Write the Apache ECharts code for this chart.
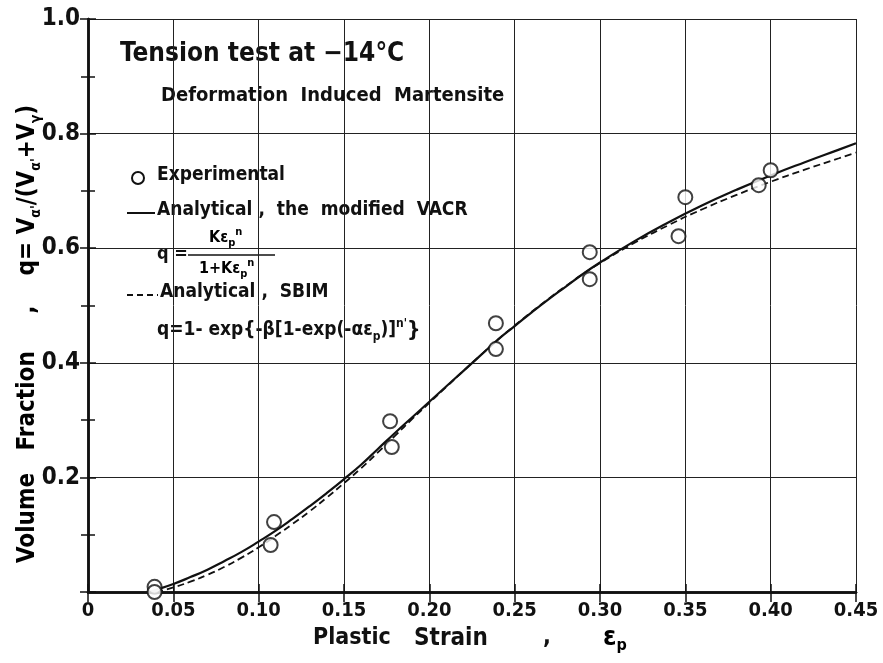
<!DOCTYPE html>
<html>
<head>
<meta charset="utf-8">
<title>Tension test at -14°C</title>
<script src="https://cdn.jsdelivr.net/npm/echarts@6/dist/echarts.min.js"></script>
<style>
  html, body { margin: 0; padding: 0; background: #fff; }
  #chart { width: 883px; height: 663px; }
</style>
</head>
<body>
<div id="chart"></div>
<script>
// experimental points (plastic strain, volume fraction)
var expX = [0.039, 0.039, 0.109, 0.107, 0.177, 0.178, 0.239, 0.239, 0.294, 0.294, 0.350, 0.346, 0.400, 0.393];
var expY = [0.009, 0.000, 0.122, 0.082, 0.298, 0.253, 0.469, 0.424, 0.593, 0.546, 0.689, 0.621, 0.736, 0.710];

// analytical, the modified VACR (solid)
var vacrX = [0.035, 0.04, 0.05, 0.06, 0.07, 0.08, 0.09, 0.10, 0.11, 0.12, 0.13, 0.14, 0.15, 0.16, 0.17, 0.18, 0.19, 0.20,
             0.21, 0.22, 0.23, 0.24, 0.25, 0.26, 0.27, 0.28, 0.29, 0.30, 0.32, 0.34, 0.36, 0.38, 0.40, 0.42, 0.44, 0.45];
var vacrY = [0.000, 0.004, 0.014, 0.026, 0.039, 0.054, 0.070, 0.088, 0.107, 0.128, 0.150, 0.173, 0.197, 0.222, 0.250, 0.278, 0.305, 0.332,
             0.359, 0.386, 0.413, 0.440, 0.464, 0.488, 0.511, 0.533, 0.555, 0.575, 0.612, 0.645, 0.675, 0.702, 0.727, 0.750, 0.772, 0.783];

// analytical, SBIM (dashed)
var sbimX = [0.04, 0.05, 0.06, 0.07, 0.08, 0.09, 0.10, 0.11, 0.12, 0.13, 0.14, 0.15, 0.16, 0.17, 0.18, 0.19, 0.20,
             0.21, 0.22, 0.23, 0.24, 0.25, 0.26, 0.27, 0.28, 0.29, 0.30, 0.32, 0.34, 0.36, 0.38, 0.40, 0.42, 0.44, 0.45];
var sbimY = [0.000, 0.008, 0.018, 0.030, 0.044, 0.060, 0.078, 0.098, 0.119, 0.141, 0.165, 0.190, 0.216, 0.244, 0.273, 0.302, 0.330,
             0.358, 0.386, 0.413, 0.440, 0.465, 0.489, 0.512, 0.534, 0.555, 0.574, 0.609, 0.640, 0.668, 0.693, 0.716, 0.737, 0.757, 0.767];

function pairs(xs, ys) {
  return xs.map(function (x, i) { return [x, ys[i]]; });
}

var font = '"DejaVu Sans Condensed", "DejaVu Sans"';
var ink = '#111';
function txt(size) {
  return { fontSize: size, fontFamily: font, fontWeight: 'bold', color: ink, lineHeight: size + 6 };
}
function low(size) {
  return { fontSize: size, fontFamily: font, fontWeight: 'bold', color: ink, verticalAlign: 'bottom', lineHeight: size };
}
function high(size) {
  return { fontSize: size, fontFamily: font, fontWeight: 'bold', color: ink, verticalAlign: 'top', lineHeight: size };
}
function label(left, top, text, size) {
  return { type: 'text', left: left, top: top,
    style: { text: text, fontSize: size, fontFamily: font, fontWeight: 'bold', fill: ink } };
}

var chart = echarts.init(document.getElementById('chart'), null, { renderer: 'canvas' });

chart.setOption({
  backgroundColor: '#fff',
  animation: false,
  grid: { left: 88, right: 27, top: 19, bottom: 71 },
  xAxis: [{
    type: 'value',
    min: 0,
    max: 0.45,
    interval: 0.05,
    position: 'bottom',
    axisLine: { lineStyle: { color: ink, width: 2.5 } },
    axisTick: { inside: true, length: 8, lineStyle: { color: ink, width: 1.5 } },
    axisLabel: {
      fontSize: 20, fontFamily: font, fontWeight: 'bold', color: ink, margin: 9,
      formatter: function (v) { return v === 0 ? '0' : v.toFixed(2); }
    },
    splitLine: { show: true, lineStyle: { color: '#222', width: 1 } }
  }, {
    type: 'value',
    min: 0,
    max: 0.45,
    interval: 0.05,
    position: 'top',
    axisLine: { lineStyle: { color: ink, width: 2.5 } },
    axisTick: { inside: true, length: 10, lineStyle: { color: ink, width: 1.5 } },
    axisLabel: { show: false },
    splitLine: { show: false }
  }],
  yAxis: [{
    type: 'value',
    min: 0,
    max: 1,
    interval: 0.2,
    position: 'left',
    axisLine: { lineStyle: { color: ink, width: 2.5 } },
    axisTick: { inside: true, length: 8, lineStyle: { color: ink, width: 1.5 } },
    minorTick: { show: true, splitNumber: 2, length: 7, lineStyle: { color: ink, width: 1.5 } },
    axisLabel: {
      fontSize: 24, fontFamily: font, fontWeight: 'bold', color: ink, margin: 8,
      formatter: function (v) { return v === 0 ? '' : v.toFixed(1); }
    },
    splitLine: { show: true, lineStyle: { color: '#222', width: 1 } }
  }, {
    type: 'value',
    min: 0,
    max: 1,
    interval: 0.2,
    position: 'right',
    axisLine: { show: true, lineStyle: { color: ink, width: 2.5 } },
    axisTick: { show: true, inside: true, length: 8, lineStyle: { color: ink, width: 1.5 } },
    minorTick: { show: true, splitNumber: 2, length: 7, lineStyle: { color: ink, width: 1.5 } },
    axisLabel: { show: false },
    splitLine: { show: false }
  }],
  series: [{
    name: 'Analytical , the modified VACR',
    type: 'line',
    data: pairs(vacrX, vacrY),
    smooth: true,
    symbol: 'none',
    lineStyle: { color: ink, width: 2.2 },
    z: 3
  }, {
    name: 'Analytical , SBIM',
    type: 'line',
    data: pairs(sbimX, sbimY),
    smooth: true,
    symbol: 'none',
    lineStyle: { color: ink, width: 1.8, type: [7, 4] },
    z: 3
  }, {
    name: 'Experimental',
    type: 'scatter',
    data: pairs(expX, expY),
    symbol: 'circle',
    symbolSize: 14,
    itemStyle: { color: '#fff', borderColor: ink, borderWidth: 2 },
    z: 5
  }],
  graphic: [
    // y axis title, rotated
    { type: 'text', x: 28, y: 334, rotation: Math.PI / 2,
      style: {
        text: '{t|Volume   Fraction     ,    q= V}{s|α\'}{t|/(V}{s|α\'}{t|+V}{s|γ}{t|)}',
        align: 'center', verticalAlign: 'middle',
        rich: { t: txt(24), s: low(14) }
      } },
    // x axis title
    label(313, 627, 'Plastic', 23),
    label(414, 627, 'Strain', 24),
    label(543, 627, ',', 23),
    { type: 'text', left: 603, top: 624,
      style: { text: '{t|ε}{s|p}', rich: { t: txt(27), s: low(16) } } },
    // header
    label(120, 41, 'Tension test at −14°C', 26),
    label(161, 86, 'Deformation  Induced  Martensite', 20),
    // legend: experimental
    { type: 'circle', shape: { cx: 138, cy: 178, r: 6 },
      style: { fill: '#fff', stroke: ink, lineWidth: 2 } },
    label(157, 166, 'Experimental', 19),
    // legend: modified VACR
    { type: 'line', shape: { x1: 127, y1: 213, x2: 155, y2: 213 },
      style: { stroke: ink, lineWidth: 2 } },
    label(157, 201, 'Analytical ,  the  modified  VACR', 19),
    label(157, 245, 'q =', 18),
    { type: 'text', left: 209, top: 227,
      style: { text: '{t|Kε}{b|p}{u|n}', rich: { t: txt(16), b: low(11), u: high(11) } } },
    { type: 'line', shape: { x1: 188, y1: 255, x2: 275, y2: 255 },
      style: { stroke: ink, lineWidth: 1.5 } },
    { type: 'text', left: 199, top: 258,
      style: { text: '{t|1+Kε}{b|p}{u|n}', rich: { t: txt(16), b: low(11), u: high(11) } } },
    // legend: SBIM
    { type: 'line', shape: { x1: 127, y1: 295, x2: 158, y2: 295 },
      style: { stroke: ink, lineWidth: 2, lineDash: [6, 4] } },
    label(160, 283, 'Analytical ,  SBIM', 19),
    { type: 'text', left: 157, top: 318,
      style: {
        text: '{t|q=1- exp{-β[1-exp(-αε}{b|p}{t|)]}{u|n\'}}',
        fontSize: 21, fontFamily: font, fontWeight: 'bold', fill: ink,
        rich: { t: txt(19), b: low(12), u: high(12) }
      } }
  ]
});
</script>
</body>
</html>
